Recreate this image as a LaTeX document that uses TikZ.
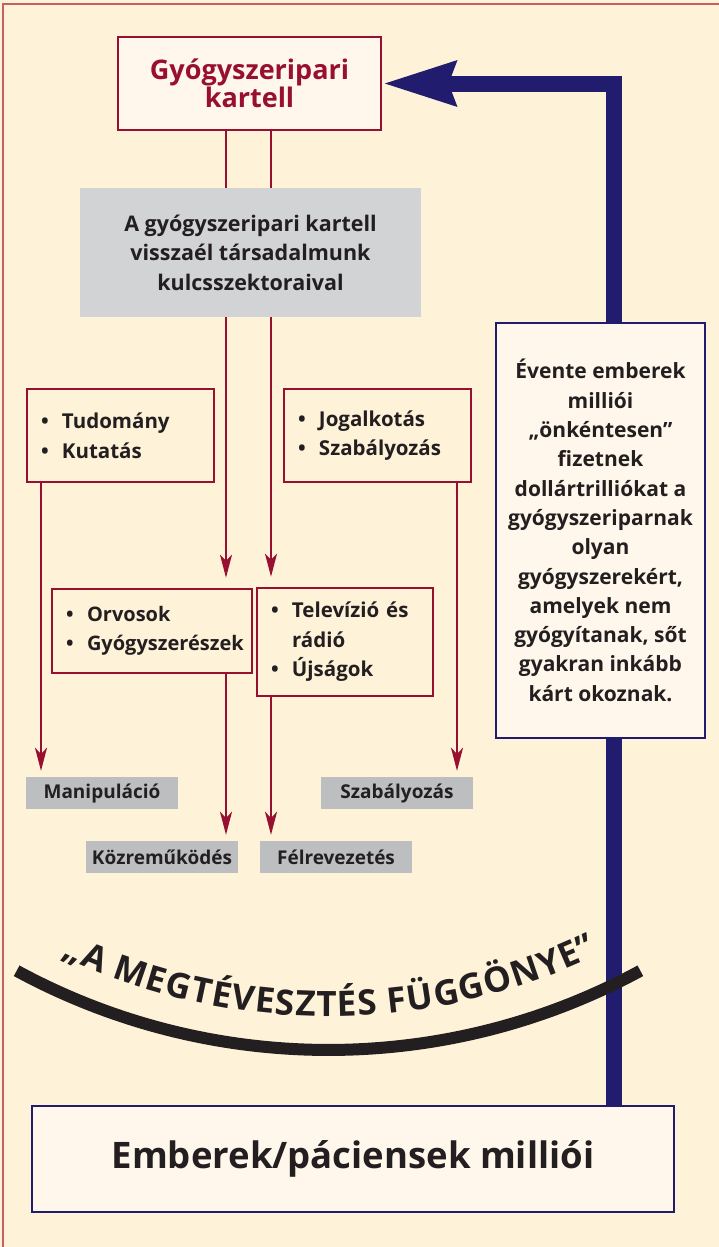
\documentclass[tikz,border=0pt]{standalone}
\usepackage{fontspec}
\setmainfont{Open Sans}
\usetikzlibrary{arrows.meta,decorations.text}

\definecolor{cream}{RGB}{254,242,217}
\definecolor{boxfill}{RGB}{255,247,235}
\definecolor{kartred}{RGB}{152,16,48}
\definecolor{navy}{RGB}{33,28,110}
\definecolor{abusegray}{RGB}{209,211,212}
\definecolor{labelgray}{RGB}{188,190,192}
\definecolor{ink}{RGB}{35,31,32}
\definecolor{framered}{RGB}{196,96,104}

\newcommand{\itm}[1]{\makebox[21pt][l]{\textbullet}#1}
\newcommand{\curtainfont}{\fontsize{35}{35}\selectfont\bfseries}

\begin{document}
\begin{tikzpicture}[x=1pt, y=-1pt,
    redbox/.style={draw=kartred, line width=2.6pt, fill=cream, text=ink,
        font=\fontsize{20.5}{29.5}\selectfont\bfseries, align=left, inner xsep=14pt, inner ysep=0pt},
    labelbox/.style={fill=labelgray, text=ink, font=\fontsize{19}{22}\selectfont\bfseries,
        minimum width=152pt, minimum height=32pt, inner sep=0pt},
    bluebox/.style={draw=navy, line width=2.2pt, fill=boxfill, text=ink, align=center, inner sep=0pt},
    redline/.style={draw=kartred, line width=2.2pt},
    redarrow/.style={redline, -{Stealth[length=23pt, width=12pt, inset=6pt]}},
    bluearrow/.style={draw=navy, line width=16pt}
]
    % Background and frame
    \useasboundingbox (0,0) rectangle (719,1247);
    \fill[cream] (0,0) rectangle (719,1247);
    \draw[framered, line width=1.5pt] (3,1247) -- (3,4) -- (719,4);

    % Lanes of the connectors
    \coordinate (laneA) at (41,0);
    \coordinate (laneB) at (226,0);
    \coordinate (laneC) at (271,0);
    \coordinate (laneD) at (457,0);
    \coordinate (laneE) at (614,0);

    % Top: cartel and its abuse
    \node[draw=kartred, line width=2.6pt, fill=boxfill, text=kartred, align=center,
        font=\fontsize{27}{28}\selectfont\bfseries, minimum width=263pt, minimum height=93pt]
        (cartel) at (249.5,83.5) {Gyógyszeripari\\kartell};
    \node[fill=abusegray, text=ink, align=center, font=\fontsize{21.5}{29.5}\selectfont\bfseries,
        minimum width=341pt, minimum height=129pt]
        (abuse) at (250.5,252.5) {A gyógyszeripari kartell\\visszaél társadalmunk\\kulcsszektoraival};

    % Key sectors
    \node[redbox, text width=159pt, minimum height=93pt] (science) at (120.5,435.5)
        {\itm{Tudomány}\\\itm{Kutatás}};
    \node[redbox, text width=159pt, minimum height=93pt] (law) at (377.5,435.5)
        {\itm{Jogalkotás}\\\itm{Szabályozás}};
    \node[redbox, text width=172pt, minimum height=84pt, font=\fontsize{20}{29.5}\selectfont\bfseries]
        (doctors) at (152,631) {\itm{Orvosok}\\\itm{Gyógyszerészek}};
    \node[redbox, text width=148pt, minimum height=108pt] (media) at (345,642)
        {\itm{Televízió és}\\\hspace*{21pt}rádió\\\itm{Újságok}};

    % Results
    \node[labelbox] (manip) at (102,793) {Manipuláció};
    \node[labelbox] (regul) at (397,793) {Szabályozás};
    \node[labelbox] (collab) at (162,857) {Közreműködés};
    \node[labelbox] (mislead) at (336,857) {Félrevezetés};

    % Payers
    \node[bluebox, font=\fontsize{21}{29.3}\selectfont\bfseries, minimum width=209pt, minimum height=415pt]
        (payers) at (600.5,530.5) {Évente emberek\\milliói\\„önkéntesen”\\fizetnek\\dollártrilliókat a\\gyógyszeriparnak\\olyan\\gyógyszerekért,\\amelyek nem\\gyógyítanak, sőt\\gyakran inkább\\kárt okoznak.};
    \node[bluebox, font=\fontsize{36.5}{40}\selectfont\bfseries, minimum width=642pt, minimum height=106pt]
        (people) at (353,1159) {Emberek/páciensek milliói};

    % Red connectors
    \draw[redline] (cartel.south -| laneB) -- (abuse.north -| laneB);
    \draw[redline] (cartel.south -| laneC) -- (abuse.north -| laneC);
    \draw[redarrow, shorten >=10pt] (abuse.south -| laneB) -- (doctors.north -| laneB);
    \draw[redarrow, shorten >=10pt] (abuse.south -| laneC) -- (media.north -| laneC);
    \draw[redarrow, shorten >=6pt] (science.south -| laneA) -- (manip.north -| laneA);
    \draw[redarrow, shorten >=6pt] (law.south -| laneD) -- (regul.north -| laneD);
    \draw[redarrow, shorten >=6pt] (doctors.south -| laneB) -- (collab.north -| laneB);
    \draw[redarrow, shorten >=6pt] (media.south -| laneC) -- (mislead.north -| laneC);

    % Blue feedback
    \draw[bluearrow] (people.north -| laneE) -- (payers.south -| laneE);
    \draw[bluearrow, -{Stealth[length=72pt, width=42pt, inset=6pt]}]
        (payers.north -| laneE) |- (cartel.east);

    % Curtain
    \coordinate (curtain) at (328.5,396.4);
    \draw[ink, line width=12pt] (curtain) ++(118.5:653.6) arc[start angle=118.5, end angle=61.5, radius=653.6];
    \path[decorate, decoration={text along path, text align={fit to path}, text color=ink,
        text={|\curtainfont|„A MEGTÉVESZTÉS FÜGGÖNYE”}}]
        (curtain) ++(115.5:620) arc[start angle=115.5, end angle=64.3, radius=620];
\end{tikzpicture}
\end{document}
